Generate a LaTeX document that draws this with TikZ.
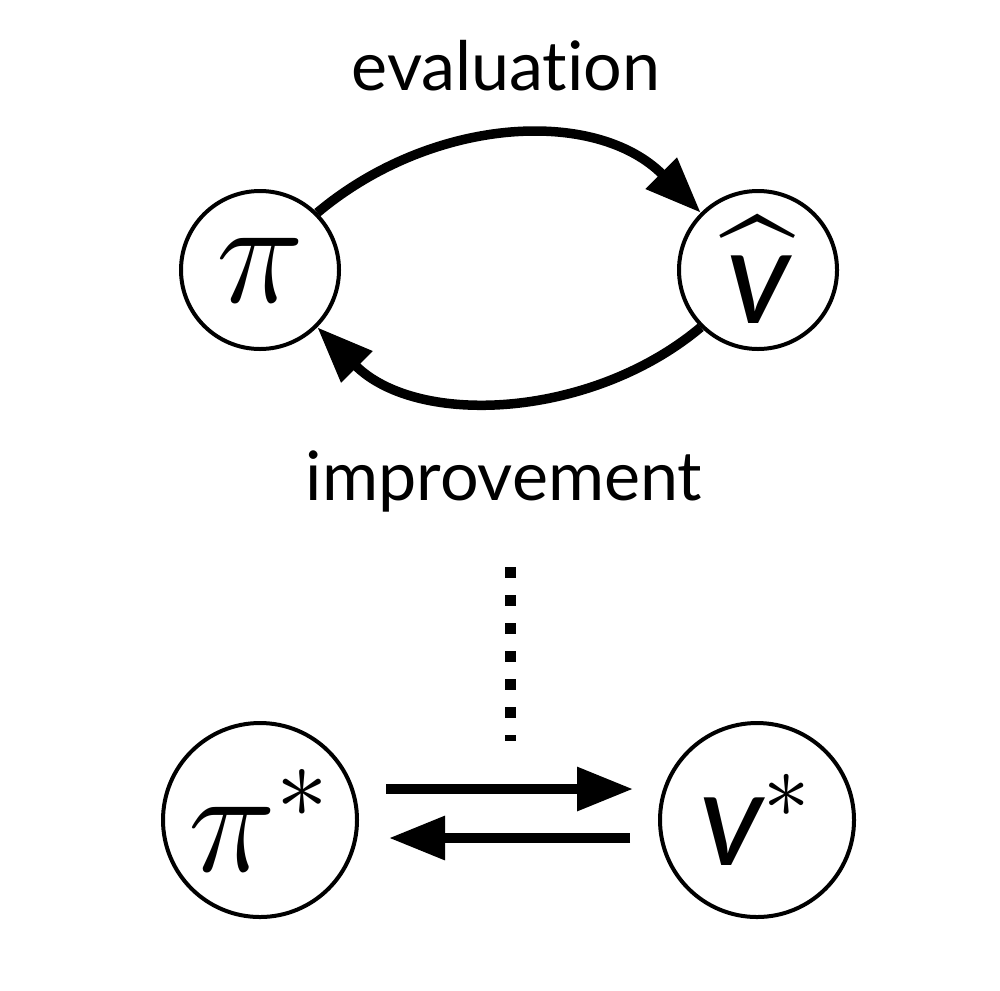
\documentclass[tikz,border=0pt]{standalone}
\usepackage{amsmath}
\usepackage{graphicx}
\usepackage{fontspec}
\setmainfont{Lato}[Ligatures={NoCommon}]
\usetikzlibrary{arrows.meta}

\begin{document}
\begin{tikzpicture}[
  state/.style={draw, circle, line width=0.04cm, inner sep=0pt, font=\fontsize{17.28}{20}\selectfont},
  arr/.style={line width=0.095cm, -{Stealth[length=0.56cm,width=0.42cm,inset=0pt]}},
  lbl/.style={font=\fontsize{19.4}{23}\selectfont, anchor=base}
]
\useasboundingbox (0,0) rectangle (10,-9.9);
% policy and value estimate
\node[state, minimum size=1.58cm] (pi) at (2.60,-2.70) {\scalebox{2.45}{$\pi$}};
\node[state, minimum size=1.58cm] (vhat) at (7.58,-2.70) {\scalebox{2.2}{$\widehat{\mbox{\itshape v}}$}};
\draw[arr] (pi.45) to[out=40,in=135,looseness=1.0] (vhat.135);
\draw[arr] (vhat.-135) to[out=-140,in=-45,looseness=0.95] (pi.-45);
\node[lbl] (eval) at (5.06,-0.90) {evaluation};
\node[lbl] (impr) at (5.04,-5.00) {improvement};
% dots down to the optimum
\coordinate (dtop) at (5.10,-5.67);
\coordinate (dbot) at (5.10,-7.41);
\draw[line width=0.11cm, dash pattern=on 0.11cm off 0.17cm] (dtop) -- (dbot);
% optimal pair
\node[state, minimum size=1.94cm] (pistar) at (2.60,-8.20) {\scalebox{2.45}{$\pi^*$}};
\node[state, minimum size=1.94cm] (vstar) at (7.57,-8.20) {\scalebox{2.2}{$\mbox{\itshape v}^*$}};
\draw[arr, shorten <=0.27cm, shorten >=0.25cm] ([yshift=0.31cm]pistar.east) -- ([yshift=0.31cm]vstar.west);
\draw[arr, shorten <=0.28cm, shorten >=0.30cm] ([yshift=-0.18cm]vstar.west) -- ([yshift=-0.18cm]pistar.east);
\end{tikzpicture}
\end{document}
